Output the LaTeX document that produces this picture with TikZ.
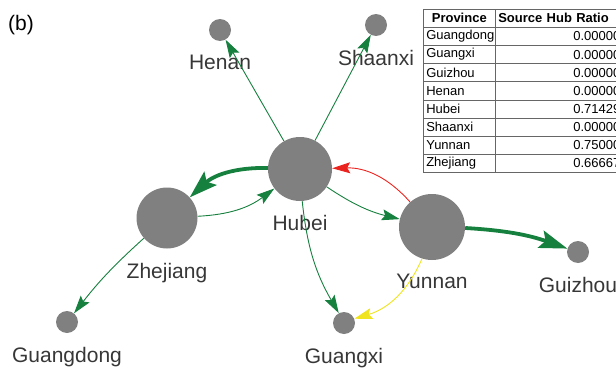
\documentclass[tikz,border=0pt]{standalone}
\usepackage{fontspec}
\setmainfont{Liberation Sans}
\usepackage{xcolor}
\usepackage{tikz}
\usetikzlibrary{arrows.meta, positioning}

\definecolor{flowgreen}{RGB}{22,128,62}
\definecolor{flowred}{RGB}{235,35,30}
\definecolor{flowyellow}{RGB}{240,228,30}
\definecolor{hubgray}{RGB}{128,128,128}
\definecolor{labelgray}{RGB}{55,55,55}

\begin{document}
\begin{tikzpicture}[
  x=1pt, y=1pt,
  lbl/.style={font=\fontsize{21}{25}\selectfont, text=labelgray, inner sep=0pt, label distance=14pt},
  prov/.style={circle, fill=hubgray, inner sep=0pt, minimum size=22pt},
  hub/.style={prov, minimum size=64pt},
  flow/.style={draw=flowgreen, line width=0.9pt, -{Stealth[length=18pt, width=11pt, inset=3pt]}},
  bigflow/.style={flow, line width=3.8pt, -{Stealth[length=28pt, width=18pt, inset=5pt]}},
  backflow/.style={flow, draw=flowred},
  sideflow/.style={flow, draw=flowyellow},
  cell/.style={draw=gray!80!black, line width=0.6pt, anchor=north west, minimum height=18.1pt,
    inner xsep=3pt, inner ysep=0pt, font=\fontsize{13}{15}\selectfont},
  namecell/.style={cell, text width=66pt, align=left},
  ratiocell/.style={cell, text width=122pt, align=right}
]
  \useasboundingbox (0,0) rectangle (616,368);

  \node[lbl, text=black] (panel) at (21,343) {(b)};

  \node[prov, label={[lbl]below:Henan}] (henan) at (220,338) {};
  \node[prov, label={[lbl]below:Shaanxi}] (shaanxi) at (376,343) {};
  \node[hub, label={[lbl]below:Hubei}] (hubei) at (300,199) {};
  \node[hub, minimum size=61pt, label={[lbl]below:Zhejiang}] (zhejiang) at (167,150) {};
  \node[hub, minimum size=66pt, label={[lbl]below:Yunnan}] (yunnan) at (432,141) {};
  \node[prov, label={[lbl]below:Guizhou}] (guizhou) at (578,116) {};
  \node[prov, label={[lbl]below:Guangdong}] (guangdong) at (67,46) {};
  \node[prov, label={[lbl]below:Guangxi}] (guangxi) at (344,45) {};

  \draw[flow] (hubei) -- (henan);
  \draw[flow] (hubei) -- (shaanxi);
  \draw[bigflow] (hubei) to[bend right=22] (zhejiang);
  \draw[flow] (zhejiang) to[bend right=17] (hubei);
  \draw[flow] (hubei) to[bend right=10] (yunnan);
  \draw[backflow] (yunnan) to[bend right=25] (hubei);
  \draw[flow] (hubei) to[bend right=12] (guangxi);
  \draw[sideflow] (yunnan) to[bend left=25] (guangxi);
  \draw[bigflow] (yunnan) to[bend left=8] (guizhou);
  \draw[flow] (zhejiang) to[bend right=5] (guangdong);

  \node[namecell, align=center] (provhead) at (423,359) {\bfseries Province};
  \node[ratiocell, align=left] (ratiohead) at (495,359) {\bfseries Source Hub Ratio};
  \foreach \prov/\ratio [count=\i] in {Guangdong/0.00000, Guangxi/0.00000, Guizhou/0.00000,
      Henan/0.00000, Hubei/0.71429, Shaanxi/0.00000, Yunnan/0.75000, Zhejiang/0.66667} {
    \node[namecell] (prov\i) at (423,359-18.1*\i) {\prov};
    \node[ratiocell] (ratio\i) at (495,359-18.1*\i) {\ratio};
  }
\end{tikzpicture}
\end{document}
